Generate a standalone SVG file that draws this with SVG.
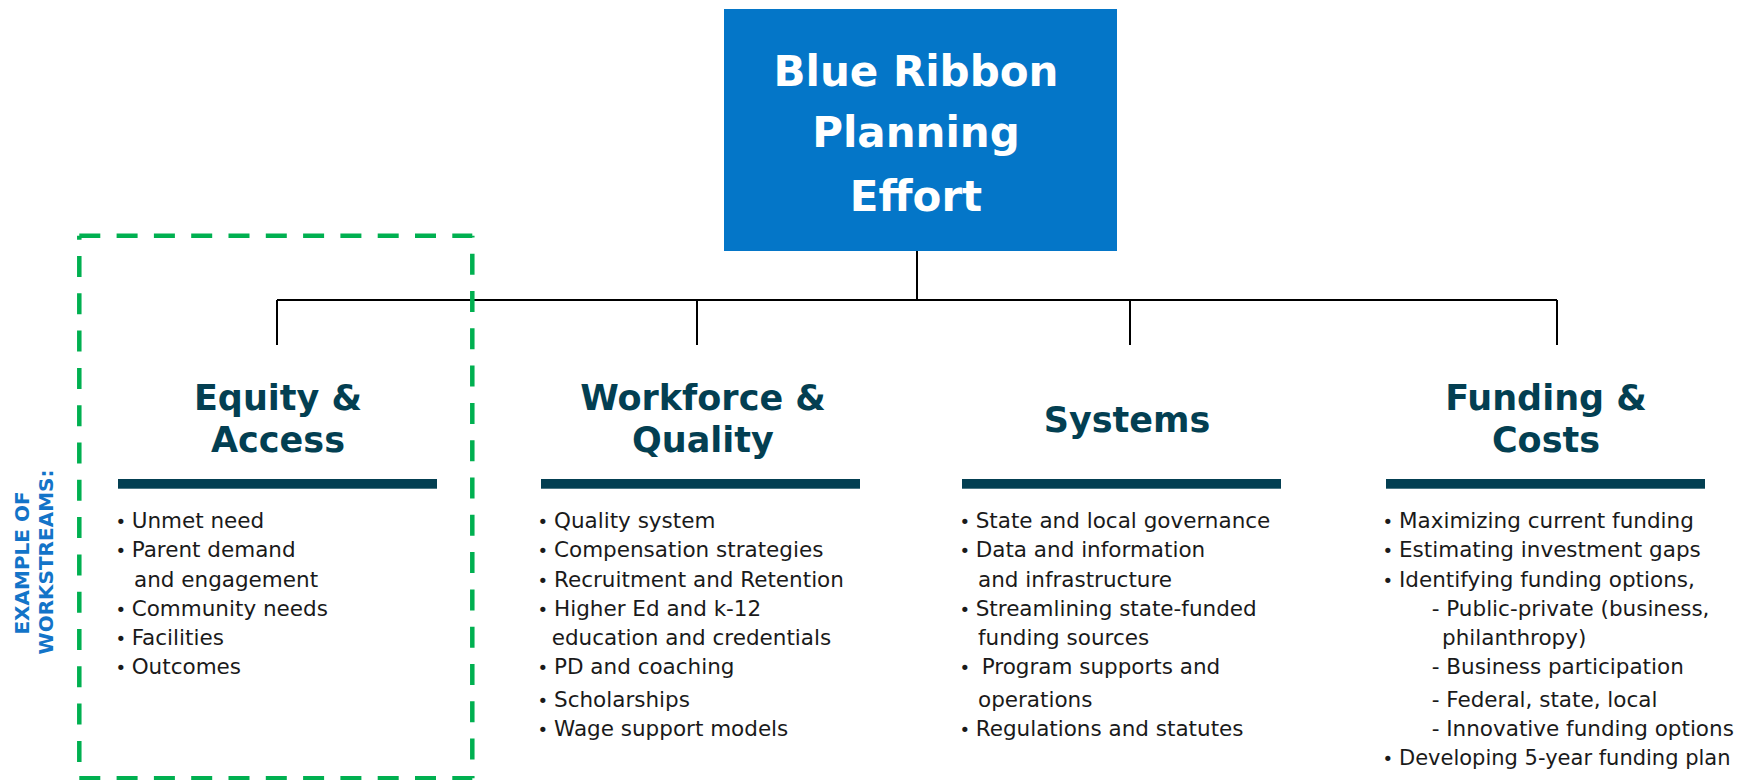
<svg xmlns="http://www.w3.org/2000/svg" width="1738" height="780" viewBox="0 0 1738 780">
<style>
.ttl{font-family:"DejaVu Sans",sans-serif;font-weight:bold;font-size:35px;fill:#033F52;text-anchor:middle}
.hd{font-family:"DejaVu Sans",sans-serif;font-weight:bold;font-size:42px;fill:#ffffff;text-anchor:middle}
.it{font-family:"DejaVu Sans",sans-serif;font-size:21.5px;fill:#1a1a1a}
.bl{font-family:"DejaVu Sans",sans-serif;font-size:18px;fill:#1a1a1a}
.bar{fill:#033F52}
.con{stroke:#000;stroke-width:2;fill:none}
.dash{stroke:#00B050;stroke-width:4.5;fill:none;stroke-dasharray:21 16.3}
.side{font-family:"DejaVu Sans",sans-serif;font-weight:bold;font-size:20px;fill:#1374C8;text-anchor:middle}
</style>
<rect width="1738" height="780" fill="#ffffff"/>

<g id="connectors">
<path class="con" d="M917,251 V300"/>
<path class="con" d="M277,300 H1557"/>
<path class="con" d="M277,300 V345 M697,300 V345 M1130,300 V345 M1557,300 V345"/>
</g>

<g id="root">
<rect x="724" y="9" width="393" height="242" fill="#0476C8"/>
<text class="hd" x="916" y="86">Blue Ribbon</text>
<text class="hd" x="916" y="147">Planning</text>
<text class="hd" x="916" y="211">Effort</text>
</g>

<g id="example-frame">
<path class="dash" d="M79.3,235.7 H472.3"/>
<path class="dash" d="M472.3,235.7 V778.3" stroke-dashoffset="19.3"/>
<path class="dash" d="M79.3,235.7 V778.3" stroke-dashoffset="17"/>
<path class="dash" d="M79.3,778.3 H472.3"/>
<text class="side" transform="translate(29.3,563) rotate(-90)">EXAMPLE OF</text>
<text class="side" transform="translate(53.3,562) rotate(-90)">WORKSTREAMS:</text>
</g>

<g id="equity">
<text class="ttl" x="278" y="410">Equity &amp;</text>
<text class="ttl" x="278" y="452">Access</text>
<rect class="bar" x="118" y="479" width="319" height="9.7"/>
<text class="bl" x="115.5" y="528">•</text><text class="it" x="131.7" y="528">Unmet need</text>
<text class="bl" x="115.5" y="557">•</text><text class="it" x="131.7" y="557">Parent demand</text>
<text class="it" x="134" y="586.7">and engagement</text>
<text class="bl" x="115.5" y="616">•</text><text class="it" x="131.7" y="616">Community needs</text>
<text class="bl" x="115.5" y="645">•</text><text class="it" x="131.7" y="645">Facilities</text>
<text class="bl" x="115.5" y="674">•</text><text class="it" x="131.7" y="674">Outcomes</text>
</g>

<g id="workforce">
<text class="ttl" x="703" y="410">Workforce &amp;</text>
<text class="ttl" x="703" y="452">Quality</text>
<rect class="bar" x="541" y="479" width="319" height="9.7"/>
<text class="bl" x="537.5" y="528">•</text><text class="it" x="554" y="528">Quality system</text>
<text class="bl" x="537.5" y="557">•</text><text class="it" x="554" y="557">Compensation strategies</text>
<text class="bl" x="537.5" y="586.7">•</text><text class="it" x="554" y="586.7">Recruitment and Retention</text>
<text class="bl" x="537.5" y="616">•</text><text class="it" x="554" y="616">Higher Ed and k-12</text>
<text class="it" x="551.7" y="645">education and credentials</text>
<text class="bl" x="537.5" y="674">•</text><text class="it" x="554" y="674">PD and coaching</text>
<text class="bl" x="537.5" y="706.7">•</text><text class="it" x="554" y="706.7">Scholarships</text>
<text class="bl" x="537.5" y="736">•</text><text class="it" x="554" y="736">Wage support models</text>
</g>

<g id="systems">
<text class="ttl" x="1127" y="431.7">Systems</text>
<rect class="bar" x="962" y="479" width="319" height="9.7"/>
<text class="bl" x="959.5" y="528">•</text><text class="it" x="975.7" y="528">State and local governance</text>
<text class="bl" x="959.5" y="557">•</text><text class="it" x="975.7" y="557">Data and information</text>
<text class="it" x="978" y="586.7">and infrastructure</text>
<text class="bl" x="959.5" y="616">•</text><text class="it" x="975.7" y="616">Streamlining state-funded</text>
<text class="it" x="978" y="645">funding sources</text>
<text class="bl" x="959.5" y="674">•</text><text class="it" x="981.7" y="674">Program supports and</text>
<text class="it" x="978" y="706.7">operations</text>
<text class="bl" x="959.5" y="736">•</text><text class="it" x="975.7" y="736">Regulations and statutes</text>
</g>

<g id="funding">
<text class="ttl" x="1546" y="410">Funding &amp;</text>
<text class="ttl" x="1546" y="452">Costs</text>
<rect class="bar" x="1386" y="479" width="319" height="9.7"/>
<text class="bl" x="1382.5" y="528">•</text><text class="it" x="1399" y="528">Maximizing current funding</text>
<text class="bl" x="1382.5" y="557">•</text><text class="it" x="1399" y="557">Estimating investment gaps</text>
<text class="bl" x="1382.5" y="586.7">•</text><text class="it" x="1399" y="586.7">Identifying funding options,</text>
<text class="it" x="1431.7" y="616">- Public-private (business,</text>
<text class="it" x="1442" y="645">philanthropy)</text>
<text class="it" x="1431.7" y="674">- Business participation</text>
<text class="it" x="1431.7" y="706.7">- Federal, state, local</text>
<text class="it" x="1431.7" y="736">- Innovative funding options</text>
<text class="bl" x="1382.5" y="765">•</text><text class="it" x="1399" y="765" style="font-size:21px">Developing 5-year funding plan</text>
</g>
</svg>
